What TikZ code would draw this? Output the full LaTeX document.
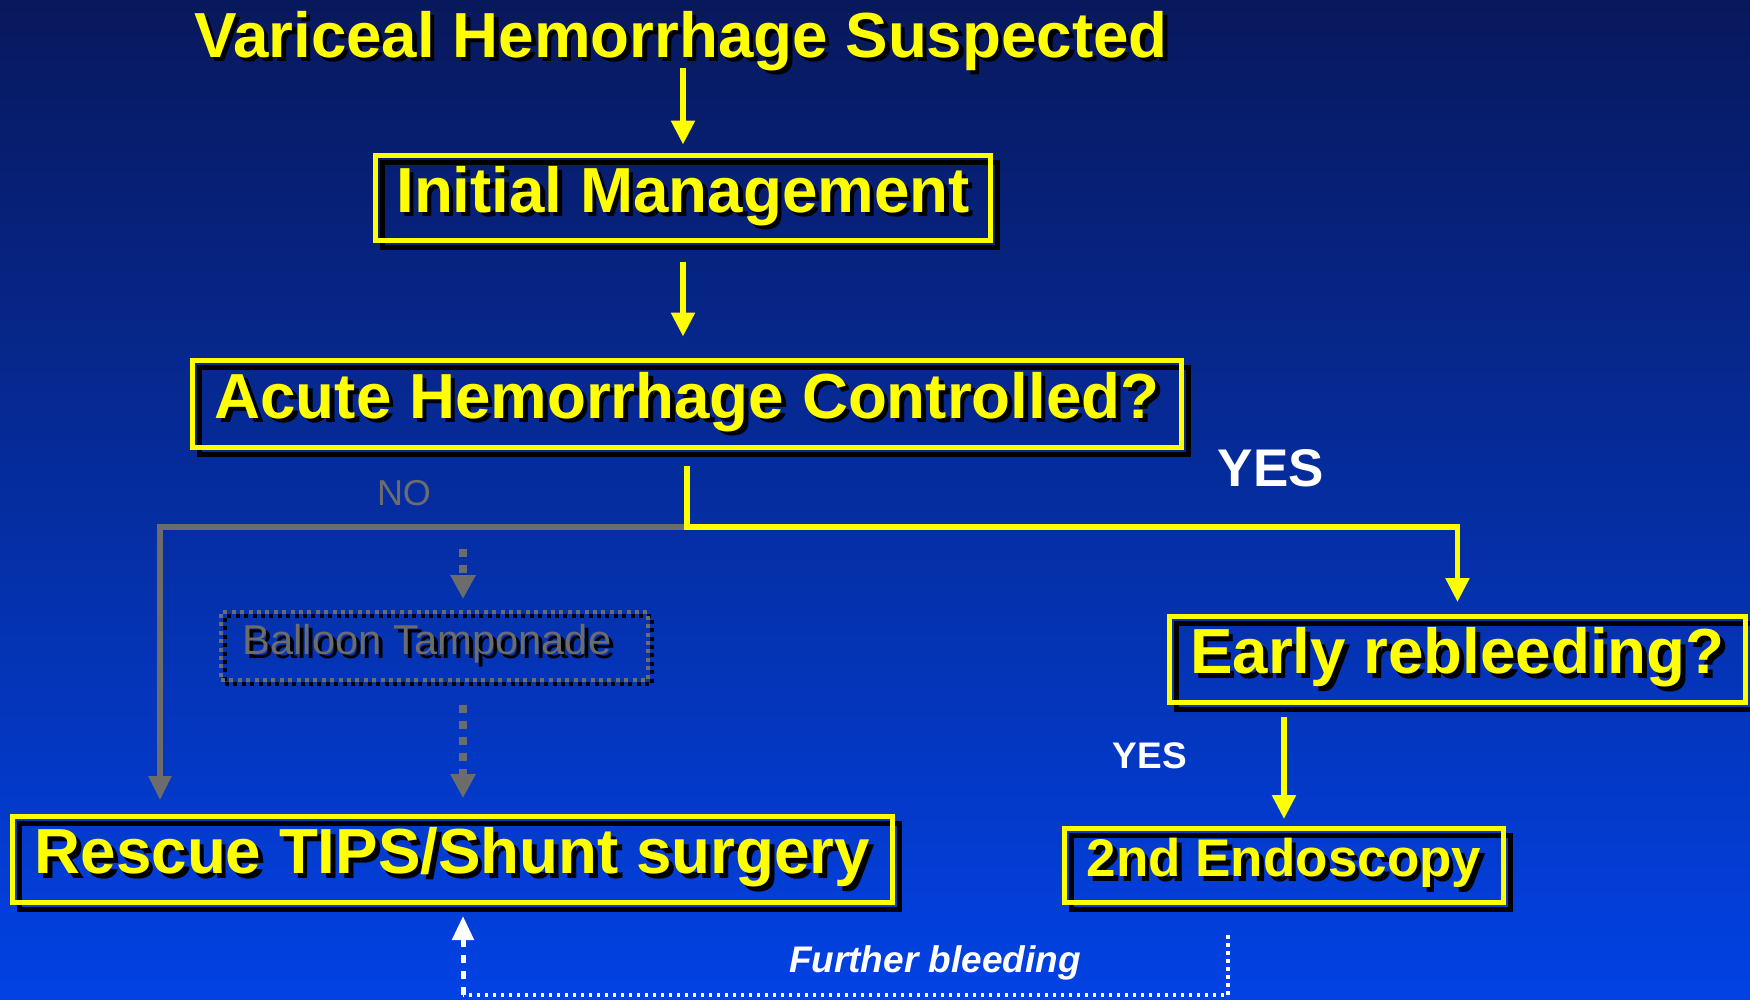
\documentclass[tikz,border=0pt]{standalone}
\usepackage{fontspec}
\setmainfont{Liberation Sans}
\usetikzlibrary{arrows.meta,shadows}

\definecolor{bgtop}{RGB}{8,24,92}
\definecolor{bgmid}{RGB}{2,44,172}
\definecolor{bgbot}{RGB}{2,66,228}
\definecolor{ylw}{RGB}{255,255,0}
\definecolor{gry}{RGB}{108,108,108}

\newcommand\shtxt[3]{\rlap{\kern#3\raisebox{-#3}{\color{black}#2}}{\color{#1}#2}}
\newcommand\bigfnt{\fontsize{63.7pt}{70pt}\selectfont\bfseries}
\newcommand\midfnt{\fontsize{53pt}{60pt}\selectfont\bfseries}

\tikzset{
  ybox/.style={draw=ylw, line width=5pt, inner sep=0pt, font=\bigfnt,
    drop shadow={shadow xshift=7pt, shadow yshift=-7pt, opacity=1,
      fill=none, draw=black, line width=5pt}},
  gbox/.style={draw=gry, line width=4pt, dash pattern=on 4pt off 4.4pt, inner sep=0pt,
    font=\fontsize{41.7pt}{48pt}\selectfont,
    drop shadow={shadow xshift=4pt, shadow yshift=-4pt, opacity=1,
      fill=none, draw=black, line width=4pt, dash pattern=on 4pt off 4.4pt}},
  yarr/.style={draw=ylw, line width=5.5pt, line join=miter,
    -{Triangle[width=23pt,length=24pt]}},
  garr/.style={draw=gry, line width=5.5pt, line join=miter,
    -{Triangle[width=22pt,length=24pt]}},
  gdarr/.style={draw=gry, line width=8pt, dash pattern=on 8pt off 8pt,
    -{Triangle[width=24pt,length=24pt]}},
  wdarr/.style={draw=white, line width=5pt, dash pattern=on 8pt off 8pt,
    -{Triangle[width=21pt,length=24pt]}},
  wdots/.style={draw=white, line width=4pt, dash pattern=on 3.5pt off 4.5pt},
  lbl/.style={inner sep=0pt, text=white},
}

\begin{document}
\begin{tikzpicture}[x=1pt, y=-1pt]
\useasboundingbox (0,0) rectangle (1750,999);
\shade[top color=bgtop, middle color=bgmid, bottom color=bgbot] (0,0) rectangle (1750,999);

% text title
\node[anchor=base, inner sep=0pt, font=\bigfnt] (title) at (681,57)
  {\shtxt{ylw}{Variceal Hemorrhage Suspected}{4.5pt}};

% boxes
\node[ybox, minimum width=615pt, minimum height=85pt] (init) at (683,198)
  {\shtxt{ylw}{Initial Management}{4.5pt}};
\node[ybox, minimum width=989pt, minimum height=87pt] (acute) at (687,404)
  {\shtxt{ylw}{Acute Hemorrhage Controlled?}{4.5pt}};
\node[ybox, minimum width=576pt, minimum height=86pt] (early) at (1457.5,659.5)
  {\shtxt{ylw}{Early rebleeding?}{4.5pt}};
\node[ybox, font=\midfnt, minimum width=439pt, minimum height=74pt] (endo) at (1284,865.5)
  {\shtxt{ylw}{2nd Endoscopy}{4.5pt}};
\node[ybox, minimum width=880pt, minimum height=86pt] (rescue) at (452.5,859.5)
  {\shtxt{ylw}{Rescue TIPS/Shunt surgery}{4.5pt}};
\node[gbox, minimum width=427pt, minimum height=68pt] (balloon) at (434.5,646)
  {\shtxt{gry}{Balloon Tamponade}{4pt}\hspace*{15pt}};

% labels
\node[lbl, font=\midfnt] (yes1) at (1271,468) {YES};
\node[lbl, font=\fontsize{37pt}{42pt}\selectfont\bfseries] (yes2) at (1150,756) {YES};
\node[inner sep=0pt, text=gry, font=\fontsize{36pt}{42pt}\selectfont] (no) at (404,493) {NO};
\node[lbl, anchor=base, font=\fontsize{37pt}{42pt}\selectfont\bfseries\itshape] (fb) at (935,972) {Further bleeding};

% coordinates
\coordinate (split) at (687,527);
\coordinate (ncol) at (160,527);
\coordinate (bt) at (463,549);
\coordinate (fb1) at (1228,935);
\coordinate (fb2) at (1228,995);
\coordinate (fb3) at (463,995);

% connectors
\draw[yarr, shorten <=-7pt, shorten >=8.5pt] (init.north |- title.south) -- (init.north);
\draw[yarr, shorten <=18.5pt, shorten >=21.5pt] (init.south) -- (init.south |- acute.north);

\draw[garr, shorten >=14pt] (split) -- (ncol) -- (ncol |- rescue.north);
\draw[yarr, shorten <=15.5pt, shorten >=12pt] (acute.south) -- (split) -| (early.north);

\draw[gdarr, shorten >=11pt] (bt) -- (bt |- balloon.north);
\draw[gdarr, shorten <=23pt, shorten >=16pt] (bt |- balloon.south) -- (bt |- rescue.north);

\draw[yarr, shorten <=11.5pt, shorten >=7pt] (endo.north |- early.south) -- (endo.north);

\draw[wdots] (fb1) -- (fb2) -- (fb3);
\draw[wdarr, shorten >=11pt] (fb3) -- (fb3 |- rescue.south);
\end{tikzpicture}
\end{document}
